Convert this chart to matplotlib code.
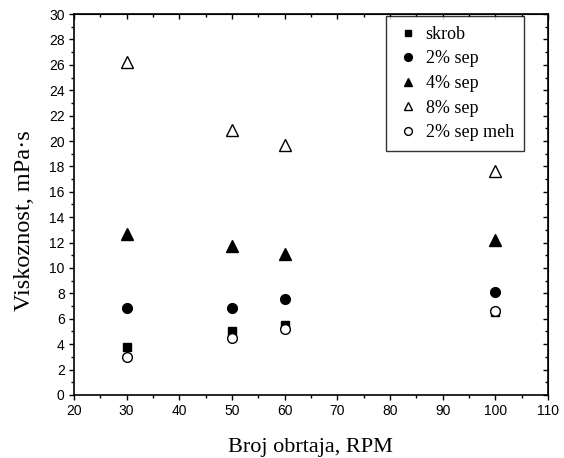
import matplotlib
matplotlib.use("Agg")
import matplotlib.pyplot as plt
from matplotlib.ticker import MultipleLocator

rpm = [30, 50, 60, 100]
skrob = [3.8, 5.0, 5.5, 6.5]
sep2 = [6.83, 6.85, 7.53, 8.13]
sep4 = [12.7, 11.7, 11.08, 12.2]
sep8 = [26.25, 20.85, 19.7, 17.6]
sep2meh = [3.02, 4.46, 5.22, 6.6]

labels = ["skrob", "2% sep", "4% sep", "8% sep", "2% sep meh"]

fig = plt.figure(figsize=(5.64, 4.58), dpi=100)
ax = fig.add_axes([0.131, 0.1376, 0.8406, 0.8318])

ax.plot(rpm, skrob, 's', color='black', markersize=6, linestyle='none', label=labels[0])
ax.plot(rpm, sep2, 'o', color='black', markersize=7, linestyle='none', label=labels[1])
ax.plot(rpm, sep4, '^', color='black', markersize=8, linestyle='none', label=labels[2])
ax.plot(rpm, sep8, '^', markerfacecolor='white', markeredgecolor='black', markeredgewidth=1.0,
        markersize=8, linestyle='none', label=labels[3])
ax.plot(rpm, sep2meh, 'o', markerfacecolor='white', markeredgecolor='black', markeredgewidth=1.0,
        markersize=7, linestyle='none', label=labels[4])

ax.set_xlim(20, 110)
ax.set_ylim(0, 30)
ax.xaxis.set_major_locator(MultipleLocator(10))
ax.xaxis.set_minor_locator(MultipleLocator(5))
ax.yaxis.set_major_locator(MultipleLocator(2))
ax.yaxis.set_minor_locator(MultipleLocator(1))

ax.tick_params(which='both', direction='out', top=False, right=False, width=1.0, pad=3)
ax.tick_params(which='major', length=3.6)
ax.tick_params(which='minor', length=2.2)
for lab in ax.get_xticklabels() + ax.get_yticklabels():
    lab.set_fontfamily('Liberation Sans')
    lab.set_fontsize(10)

# inward ticks on top/right
sec_x = ax.secondary_xaxis('top')
sec_x.xaxis.set_major_locator(MultipleLocator(10))
sec_x.xaxis.set_minor_locator(MultipleLocator(5))
sec_x.tick_params(which='both', direction='in', labeltop=False, width=1.0)
sec_x.tick_params(which='major', length=3.6)
sec_x.tick_params(which='minor', length=2.2)
sec_y = ax.secondary_yaxis('right')
sec_y.yaxis.set_major_locator(MultipleLocator(2))
sec_y.yaxis.set_minor_locator(MultipleLocator(1))
sec_y.tick_params(which='both', direction='in', labelright=False, width=1.0)
sec_y.tick_params(which='major', length=3.6)
sec_y.tick_params(which='minor', length=2.2)

for s in ax.spines.values():
    s.set_linewidth(1.2)

ax.set_xlabel("Broj obrtaja, RPM", fontfamily='Liberation Serif', fontsize=16, labelpad=14)
ax.set_ylabel("Viskoznost, mPa·s", fontfamily='Liberation Serif', fontsize=17.5)
ax.yaxis.set_label_coords(-0.082, 0.457)

leg = ax.legend(loc='upper right', bbox_to_anchor=(0.949, 0.995), borderaxespad=0,
                frameon=True, fancybox=False,
                edgecolor='black', prop={'family': 'Liberation Serif', 'size': 13},
                markerscale=0.8, handletextpad=0.35, labelspacing=0.42, borderpad=0.55,
                handlelength=1.3)
leg.get_frame().set_linewidth(1.0)

fig.savefig("out.png", dpi=100)
